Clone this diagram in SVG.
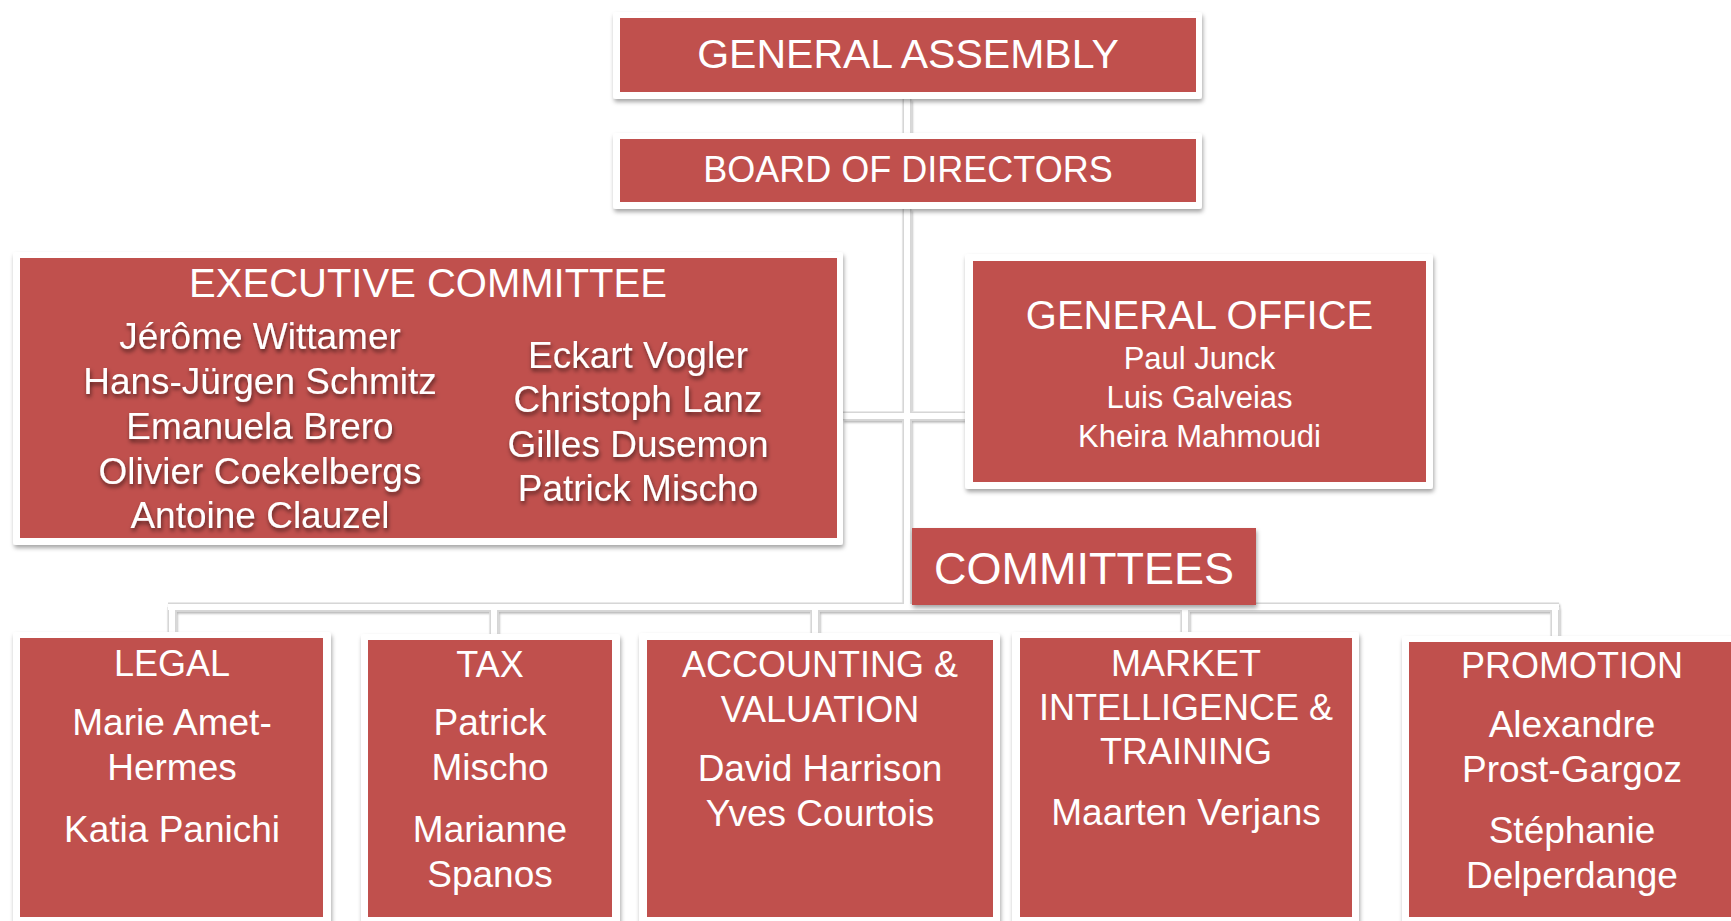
<svg xmlns="http://www.w3.org/2000/svg" width="1731" height="921" viewBox="0 0 1731 921">
<defs>
<filter id="sh" x="-10%" y="-10%" width="120%" height="130%">
<feDropShadow dx="1" dy="3" stdDeviation="2" flood-color="#000" flood-opacity="0.35"/>
</filter>
<filter id="lsh" x="-50%" y="-50%" width="200%" height="200%">
<feDropShadow dx="1" dy="2" stdDeviation="1.2" flood-color="#000" flood-opacity="0.3"/>
</filter>
<filter id="tsh" x="-10%" y="-30%" width="120%" height="170%">
<feDropShadow dx="1" dy="3" stdDeviation="2" flood-color="#000" flood-opacity="0.55"/>
</filter>
</defs>
<style>
.frame{fill:#fff;filter:url(#sh)}
.red{fill:#C0504D}
.t{font-family:"Liberation Sans",Arial,sans-serif;fill:#fff;text-anchor:middle}
.cg{stroke:#d6d6d6;stroke-width:9;fill:none;stroke-linecap:butt}
.cw{stroke:#fff;stroke-width:6;fill:none;stroke-linecap:butt}
.nm{filter:url(#tsh)}
</style>
<rect width="1731" height="921" fill="#fff"/>
<g id="connectors" filter="url(#lsh)">
<path class="cg" d="M907 99V133M907 209V607M843 416H965M168 607H1559M172 607V632M494 607V634M815 607V633M1185 607V632M1555 607V636"/>
<path class="cw" d="M907 99V133M907 209V607M843 416H965M168 607H1559M172 607V632M494 607V634M815 607V633M1185 607V632M1555 607V636"/>
</g>
<g id="general-assembly">
<rect class="frame" x="613" y="12" width="589" height="87" rx="3"/>
<rect class="red" x="620" y="18" width="576" height="74"/>
<text class="t" x="908" y="68" font-size="41">GENERAL ASSEMBLY</text>
</g>
<g id="board-of-directors">
<rect class="frame" x="613" y="133" width="589" height="76" rx="3"/>
<rect class="red" x="620" y="139" width="576" height="63"/>
<text class="t" x="908" y="182" font-size="36">BOARD OF DIRECTORS</text>
</g>
<g id="executive-committee">
<rect class="frame" x="13" y="252" width="830" height="293" rx="3"/>
<rect class="red" x="20" y="258" width="817" height="280"/>
<text class="t" x="428" y="297" font-size="40">EXECUTIVE COMMITTEE</text>
<g class="nm">
<text class="t" x="260" y="349" font-size="37">Jérôme Wittamer</text>
<text class="t" x="260" y="394" font-size="37">Hans-Jürgen Schmitz</text>
<text class="t" x="260" y="439" font-size="37">Emanuela Brero</text>
<text class="t" x="260" y="484" font-size="37">Olivier Coekelbergs</text>
<text class="t" x="260" y="528" font-size="37">Antoine Clauzel</text>
<text class="t" x="638" y="368" font-size="37">Eckart Vogler</text>
<text class="t" x="638" y="412" font-size="37">Christoph Lanz</text>
<text class="t" x="638" y="457" font-size="37">Gilles Dusemon</text>
<text class="t" x="638" y="501" font-size="37">Patrick Mischo</text>
</g>
</g>
<g id="general-office">
<rect class="frame" x="965" y="254" width="468" height="235" rx="3"/>
<rect class="red" x="973" y="261" width="453" height="221"/>
<text class="t" x="1199.5" y="329" font-size="40">GENERAL OFFICE</text>
<text class="t" x="1199.5" y="369" font-size="31">Paul Junck</text>
<text class="t" x="1199.5" y="408" font-size="31">Luis Galveias</text>
<text class="t" x="1199.5" y="447" font-size="31">Kheira Mahmoudi</text>
</g>
<g id="committees">
<rect class="red" x="912" y="528" width="344" height="77" filter="url(#sh)"/>
<text class="t" x="1084" y="584" font-size="45">COMMITTEES</text>
</g>
<g id="legal">
<rect class="frame" x="13" y="632" width="318" height="300" rx="3"/>
<rect class="red" x="20" y="638" width="303" height="279"/>
<text class="t" x="172" y="676" font-size="36">LEGAL</text>
<text class="t" x="172" y="735" font-size="37">Marie Amet-</text>
<text class="t" x="172" y="780" font-size="37">Hermes</text>
<text class="t" x="172" y="842" font-size="37">Katia Panichi</text>
</g>
<g id="tax">
<rect class="frame" x="361" y="634" width="259" height="300" rx="3"/>
<rect class="red" x="368" y="640" width="244" height="277"/>
<text class="t" x="490" y="677" font-size="36">TAX</text>
<text class="t" x="490" y="735" font-size="37">Patrick</text>
<text class="t" x="490" y="780" font-size="37">Mischo</text>
<text class="t" x="490" y="842" font-size="37">Marianne</text>
<text class="t" x="490" y="887" font-size="37">Spanos</text>
</g>
<g id="accounting-valuation">
<rect class="frame" x="639" y="633" width="361" height="300" rx="3"/>
<rect class="red" x="647" y="640" width="346" height="277"/>
<text class="t" x="820" y="677" font-size="36">ACCOUNTING &amp;</text>
<text class="t" x="820" y="722" font-size="36">VALUATION</text>
<text class="t" x="820" y="781" font-size="37">David Harrison</text>
<text class="t" x="820" y="826" font-size="37">Yves Courtois</text>
</g>
<g id="market-intelligence-training">
<rect class="frame" x="1012" y="632" width="347" height="300" rx="3"/>
<rect class="red" x="1020" y="638" width="332" height="279"/>
<text class="t" x="1186" y="676" font-size="36">MARKET</text>
<text class="t" x="1186" y="720" font-size="36">INTELLIGENCE &amp;</text>
<text class="t" x="1186" y="764" font-size="36">TRAINING</text>
<text class="t" x="1186" y="825" font-size="37">Maarten Verjans</text>
</g>
<g id="promotion">
<rect class="frame" x="1402" y="636" width="345" height="300" rx="3"/>
<rect class="red" x="1409" y="642" width="330" height="275"/>
<text class="t" x="1572" y="678" font-size="36">PROMOTION</text>
<text class="t" x="1572" y="737" font-size="37">Alexandre</text>
<text class="t" x="1572" y="782" font-size="37">Prost-Gargoz</text>
<text class="t" x="1572" y="843" font-size="37">Stéphanie</text>
<text class="t" x="1572" y="888" font-size="37">Delperdange</text>
</g>
</svg>
